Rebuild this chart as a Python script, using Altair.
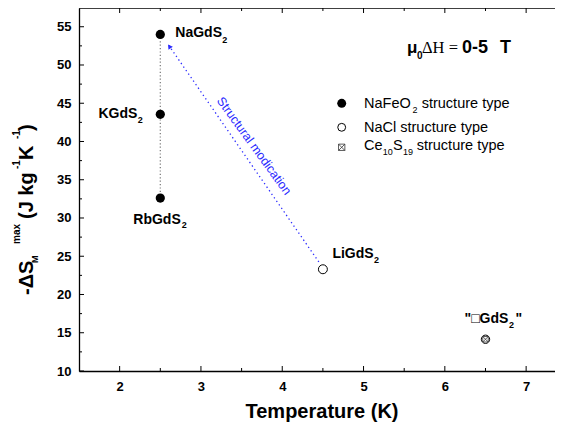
import altair as alt
import pandas as pd

# ---------------- data ----------------
compounds = ["NaGdS2", "KGdS2", "RbGdS2", "LiGdS2", "□GdS2"]
temperature = [2.5, 2.5, 2.5, 4.5, 6.5]
ds_max = [54.0, 43.55, 32.6, 23.3, 14.15]
structure = ["NaFeO2", "NaFeO2", "NaFeO2", "NaCl", "Ce10S19"]

arrow_T = [4.45, 2.587]
arrow_dS = [24.25, 52.83]

x_major = [2, 3, 4, 5, 6, 7]
x_minor = [2.5, 3.5, 4.5, 5.5, 6.5]
y_major = [10, 15, 20, 25, 30, 35, 40, 45, 50, 55]
y_minor = [12.5, 17.5, 22.5, 27.5, 32.5, 37.5, 42.5, 47.5, 52.5]

df = pd.DataFrame({"name": compounds, "T": temperature, "dS": ds_max, "type": structure})
arrow_df = pd.DataFrame({"T": arrow_T, "dS": arrow_dS, "order": [0, 1]})
one = pd.DataFrame({"k": [0]})

W, H = 476, 363
SANS = "Liberation Sans"
SERIF = "Liberation Serif"
xs = alt.Scale(domain=[1.5, 7.355], nice=False, zero=False)
ys = alt.Scale(domain=[10, 57.45], nice=False, zero=False)

X_AXIS = alt.Axis(values=x_major, title=None, tickSize=0, labelPadding=9, grid=False,
                  labelFont=SANS, labelFontSize=13, labelFontWeight="bold", labelColor="black",
                  domainColor="black", domainWidth=1.3, format="d")
Y_AXIS = alt.Axis(values=y_major, title=None, tickSize=0, labelPadding=8, grid=False,
                  labelFont=SANS, labelFontSize=13, labelFontWeight="bold", labelColor="black",
                  domainColor="black", domainWidth=1.3, format="d")


def xe(field):
    return alt.X(field, scale=xs, axis=X_AXIS)


def ye(field):
    return alt.Y(field, scale=ys, axis=Y_AXIS)


layers = []

# --------------- frame and inward ticks ---------------
def xticks(vals, y0, y1):
    return alt.Chart(pd.DataFrame({"t": vals})).mark_rule(color="black", strokeWidth=1).encode(
        x=xe("t:Q"), y=alt.value(y0), y2=alt.value(y1))


def yticks(vals, x0, x1):
    return alt.Chart(pd.DataFrame({"t": vals})).mark_rule(color="black", strokeWidth=1).encode(
        y=ye("t:Q"), x=alt.value(x0), x2=alt.value(x1))


layers += [
    xticks(x_major, H, H - 5), xticks(x_minor, H, H - 3),
    xticks(x_major, 0, 5), xticks(x_minor, 0, 3),
    yticks(y_major, 0, 5), yticks(y_minor, 0, 3),
    alt.Chart(one).mark_rule(color="black", strokeWidth=1.3).encode(
        x=alt.value(0), x2=alt.value(W), y=alt.value(0)),
]

# vertical dotted gray line through the NaFeO2-type compounds
layers.append(
    alt.Chart(df[df["type"] == "NaFeO2"]).mark_line(color="#777777", strokeWidth=1.2, strokeDash=[1.2, 2.2]).encode(
        x=xe("T:Q"), y=ye("dS:Q"))
)

# blue dotted arrow
layers.append(
    alt.Chart(arrow_df).mark_line(color="#2a2aff", strokeWidth=1.3, strokeDash=[1.3, 3]).encode(
        x=xe("T:Q"), y=ye("dS:Q"), order="order:O")
)
layers.append(
    alt.Chart(arrow_df.iloc[[1]]).mark_point(shape="triangle-up", filled=True, color="#2a2aff", size=28,
                                             angle=325.5, xOffset=2, yOffset=3, opacity=1).encode(
        x=xe("T:Q"), y=ye("dS:Q"))
)

# points
layers.append(
    alt.Chart(df[df["type"] == "NaFeO2"]).mark_point(shape="circle", filled=True, color="black", size=85, opacity=1).encode(
        x=xe("T:Q"), y=ye("dS:Q"))
)
layers.append(
    alt.Chart(df[df["type"] == "NaCl"]).mark_point(shape="circle", filled=False, color="black", size=80, strokeWidth=1, opacity=1).encode(
        x=xe("T:Q"), y=ye("dS:Q"))
)
BOXX = "M-1,-1L1,-1L1,1L-1,1Z M-1,-1L1,1 M1,-1L-1,1"
ce = df[df["type"] == "Ce10S19"]
layers.append(
    alt.Chart(ce).mark_point(shape="circle", filled=False, color="black", size=70, strokeWidth=1, opacity=1).encode(
        x=xe("T:Q"), y=ye("dS:Q"))
)
layers.append(
    alt.Chart(ce).mark_point(shape=BOXX, filled=False, color="#333333", size=30, strokeWidth=0.8, opacity=1).encode(
        x=xe("T:Q"), y=ye("dS:Q"))
)

# --------------- point labels ---------------
def plabel(i, text, dx, dy, size=14, align="left"):
    return alt.Chart(df.iloc[[i]]).mark_text(text=text, dx=dx, dy=dy, align=align, baseline="alphabetic",
                                             font=SANS, fontSize=size, fontWeight="bold", color="black").encode(
        x=xe("T:Q"), y=ye("dS:Q"))


layers += [
    plabel(0, "NaGdS", 15, 3), plabel(0, "2", 62, 9, size=9),
    plabel(1, "KGdS", -23, 4, align="right"), plabel(1, "2", -22.5, 9, size=9),
    plabel(2, "RbGdS", -27, 26), plabel(2, "2", 21.5, 30, size=9),
    plabel(3, "LiGdS", 9.5, -11), plabel(3, "2", 51, -6, size=9),
    plabel(4, "\"□GdS", -21, -16), plabel(4, "2", 23.5, -11, size=9), plabel(4, "\"", 30, -16),
]

# --------------- free text ---------------
def txt(text, x, y, size, weight="normal", font=SANS, align="left", baseline="alphabetic", angle=0, color="black"):
    return alt.Chart(one).mark_text(text=text, align=align, baseline=baseline, font=font, fontSize=size,
                                    fontWeight=weight, angle=angle, color=color).encode(
        x=alt.value(x), y=alt.value(y))


# structural modification annotation
layers.append(txt("Structural modication", 175, 138, 12.5, angle=54, align="center", baseline="middle", color="#2a2aff"))

# mu0 dH = 0-5 T
layers += [
    txt("μ", 328, 45.3, 17, weight="bold"),
    txt("0", 338, 51, 10, weight="bold"),
    txt("ΔH =", 343, 45.3, 16.5, font=SERIF),
    txt("0-5", 383, 45.3, 18, weight="bold"),
    txt("T", 421, 45.3, 18, weight="bold"),
]

# legend
layers += [
    alt.Chart(one).mark_point(shape="circle", filled=True, color="black", size=80, opacity=1).encode(
        x=alt.value(262.7), y=alt.value(95.3)),
    alt.Chart(one).mark_point(shape="circle", filled=False, color="black", size=62, strokeWidth=1, opacity=1).encode(
        x=alt.value(262.7), y=alt.value(119.3)),
    alt.Chart(one).mark_point(shape=BOXX, filled=False, color="#333333", size=40, strokeWidth=0.8, opacity=1).encode(
        x=alt.value(262.7), y=alt.value(139.3)),
    txt("NaFeO", 285, 100.3, 14.5),
    txt("2", 333.5, 104.5, 9),
    txt("structure type", 342.7, 100.3, 14.5),
    txt("NaCl structure type", 285, 124.3, 14.5),
    txt("Ce", 285, 142, 14.5),
    txt("10", 303.7, 147, 9),
    txt("S", 314, 142, 14.5),
    txt("19", 324, 147, 9),
    txt("structure type", 337.7, 142, 14.5),
]

# axis titles
layers.append(txt("Temperature (K)", 243, 409.5, 20, weight="bold", align="center"))
ypieces = [
    ("-ΔS", 287, 20, -46),
    ("M", 255, 9, -41),
    ("max", 236, 10, -59),
    ("(J kg", 211, 20, -46),
    ("-1", 161, 10, -59),
    (" K", 152, 20, -46),
    ("-1", 131, 10, -59),
    (")", 123, 20, -46),
]
for t, y, s, x in ypieces:
    layers.append(txt(t, x, y, s, weight="bold", angle=270))

chart = alt.layer(*layers).properties(
    width=W, height=H,
    autosize=alt.AutoSizeParams(type="none"),
    padding={"left": 71, "top": 0, "right": 0, "bottom": 53},
    background="white",
).configure_view(stroke=None)

chart.save("out.html", embed_options={"renderer": "svg", "actions": False})
